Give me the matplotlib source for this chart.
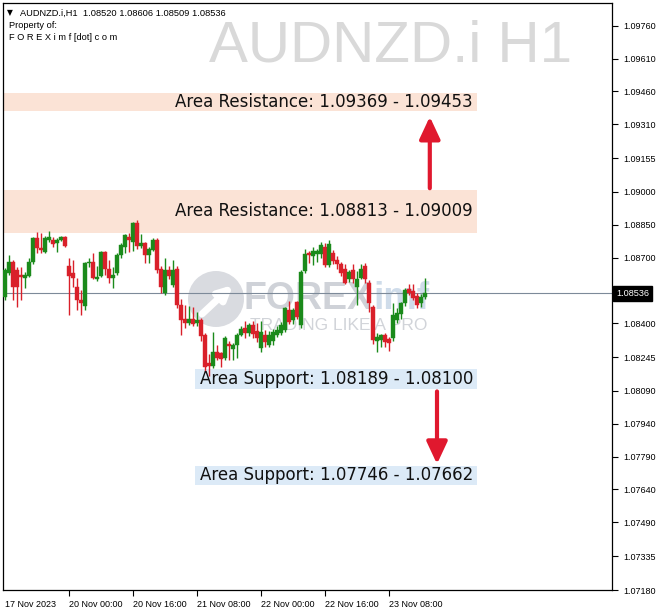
import matplotlib
matplotlib.use("Agg")
import matplotlib.pyplot as plt
from matplotlib.patches import Rectangle, Ellipse
from matplotlib.transforms import blended_transform_factory

# ---------------- data ----------------
opens = [1.08519, 1.08628, 1.08680, 1.08643, 1.08620, 1.08608, 1.08615, 1.08680, 1.08790, 1.08743,
         1.08725, 1.08780, 1.08780, 1.08768, 1.08782, 1.08795, 1.08660, 1.08630, 1.08566, 1.08505,
         1.08480, 1.08675, 1.08680, 1.08603, 1.08615, 1.08725, 1.08650, 1.08605, 1.08630, 1.08710,
         1.08750, 1.08795, 1.08770, 1.08857, 1.08755, 1.08765, 1.08710, 1.08735, 1.08780, 1.08650,
         1.08537, 1.08643, 1.08575, 1.08650, 1.08482, 1.08420, 1.08400, 1.08420, 1.08400, 1.08414,
         1.08345, 1.08220, 1.08205, 1.08270, 1.08265, 1.08240, 1.08305, 1.08280, 1.08300, 1.08345,
         1.08380, 1.08355, 1.08390, 1.08365, 1.08285, 1.08345, 1.08300, 1.08320, 1.08345, 1.08355,
         1.08370, 1.08460, 1.08415, 1.08495, 1.08390, 1.08640, 1.08722, 1.08705, 1.08715, 1.08715,
         1.08750, 1.08668, 1.08720, 1.08690, 1.08670, 1.08650, 1.08600, 1.08645, 1.08565, 1.08605,
         1.08660, 1.08585, 1.08475, 1.08320, 1.08325, 1.08345, 1.08327, 1.08330, 1.08415, 1.08440,
         1.08490, 1.08555, 1.08545, 1.08525, 1.08490, 1.08520]
highs = [1.08652, 1.08711, 1.08690, 1.08655, 1.08657, 1.08632, 1.08700, 1.08795, 1.08817, 1.08812,
         1.08800, 1.08820, 1.08795, 1.08790, 1.08800, 1.08800, 1.08700, 1.08688, 1.08605, 1.08551,
         1.08680, 1.08700, 1.08720, 1.08660, 1.08730, 1.08730, 1.08690, 1.08655, 1.08720, 1.08765,
         1.08810, 1.08812, 1.08862, 1.08870, 1.08810, 1.08770, 1.08750, 1.08790, 1.08790, 1.08660,
         1.08700, 1.08660, 1.08690, 1.08660, 1.08510, 1.08485, 1.08480, 1.08475, 1.08450, 1.08425,
         1.08355, 1.08260, 1.08360, 1.08300, 1.08270, 1.08340, 1.08320, 1.08310, 1.08355, 1.08385,
         1.08410, 1.08400, 1.08410, 1.08400, 1.08410, 1.08370, 1.08365, 1.08375, 1.08385, 1.08405,
         1.08475, 1.08500, 1.08470, 1.08500, 1.08645, 1.08740, 1.08730, 1.08750, 1.08740, 1.08770,
         1.08765, 1.08780, 1.08735, 1.08705, 1.08680, 1.08670, 1.08645, 1.08670, 1.08640, 1.08670,
         1.08675, 1.08598, 1.08485, 1.08355, 1.08352, 1.08355, 1.08335, 1.08490, 1.08470, 1.08495,
         1.08560, 1.08580, 1.08580, 1.08540, 1.08535, 1.08606]
lows = [1.08505, 1.08620, 1.08505, 1.08475, 1.08505, 1.08560, 1.08610, 1.08670, 1.08720, 1.08720,
        1.08720, 1.08770, 1.08750, 1.08725, 1.08775, 1.08750, 1.08437, 1.08566, 1.08460, 1.08437,
        1.08460, 1.08655, 1.08600, 1.08595, 1.08610, 1.08620, 1.08585, 1.08560, 1.08620, 1.08700,
        1.08720, 1.08725, 1.08730, 1.08740, 1.08745, 1.08675, 1.08675, 1.08730, 1.08630, 1.08540,
        1.08530, 1.08600, 1.08565, 1.08470, 1.08345, 1.08380, 1.08390, 1.08385, 1.08385, 1.08320,
        1.08178, 1.08160, 1.08195, 1.08230, 1.08200, 1.08230, 1.08230, 1.08230, 1.08240, 1.08340,
        1.08330, 1.08340, 1.08330, 1.08315, 1.08270, 1.08290, 1.08290, 1.08300, 1.08335, 1.08345,
        1.08360, 1.08395, 1.08395, 1.08420, 1.08380, 1.08630, 1.08675, 1.08665, 1.08680, 1.08700,
        1.08655, 1.08655, 1.08670, 1.08650, 1.08615, 1.08580, 1.08590, 1.08585, 1.08482, 1.08600,
        1.08585, 1.08450, 1.08305, 1.08270, 1.08290, 1.08290, 1.08272, 1.08320, 1.08400, 1.08420,
        1.08480, 1.08530, 1.08505, 1.08470, 1.08475, 1.08509]
closes = [1.08643, 1.08680, 1.08566, 1.08566, 1.08611, 1.08622, 1.08680, 1.08790, 1.08743, 1.08734,
          1.08790, 1.08792, 1.08760, 1.08782, 1.08795, 1.08755, 1.08615, 1.08608, 1.08505, 1.08490,
          1.08675, 1.08680, 1.08605, 1.08612, 1.08725, 1.08650, 1.08608, 1.08620, 1.08710, 1.08758,
          1.08803, 1.08780, 1.08857, 1.08752, 1.08765, 1.08710, 1.08740, 1.08780, 1.08643, 1.08566,
          1.08643, 1.08615, 1.08643, 1.08482, 1.08414, 1.08400, 1.08420, 1.08395, 1.08415, 1.08340,
          1.08200, 1.08205, 1.08270, 1.08240, 1.08235, 1.08330, 1.08295, 1.08300, 1.08345, 1.08375,
          1.08355, 1.08390, 1.08350, 1.08330, 1.08358, 1.08315, 1.08345, 1.08360, 1.08370, 1.08390,
          1.08470, 1.08405, 1.08460, 1.08430, 1.08635, 1.08715, 1.08710, 1.08730, 1.08728, 1.08757,
          1.08668, 1.08760, 1.08683, 1.08670, 1.08630, 1.08585, 1.08632, 1.08600, 1.08600, 1.08650,
          1.08600, 1.08490, 1.08322, 1.08335, 1.08345, 1.08315, 1.08310, 1.08437, 1.08445, 1.08490,
          1.08550, 1.08540, 1.08515, 1.08482, 1.08520, 1.08536]

date_tick_index = [0, 16, 32, 48, 64, 80, 96]
date_tick_labels = ["17 Nov 2023", "20 Nov 00:00", "20 Nov 16:00", "21 Nov 08:00",
                    "22 Nov 00:00", "22 Nov 16:00", "23 Nov 08:00"]

price_ticks = [1.09760, 1.09610, 1.09460, 1.09310, 1.09155, 1.09000, 1.08850, 1.08700, 1.08550,
               1.08400, 1.08245, 1.08090, 1.07940, 1.07790, 1.07640, 1.07490, 1.07335, 1.07180]
# the 1.08550 label sits under the current-price box in the reference
price_tick_labels = ["1.09760", "1.09610", "1.09460", "1.09310", "1.09155", "1.09000", "1.08850",
                     "1.08700", "", "1.08400", "1.08245", "1.08090", "1.07940", "1.07790",
                     "1.07640", "1.07490", "1.07335", "1.07180"]

resistance_zones = [(1.09369, 1.09453), (1.08813, 1.09009)]
support_zones = [(1.08189, 1.08100), (1.07746, 1.07662)]
current_price = closes[-1]
symbol = "AUDNZD.i"
timeframe = "H1"

# ---------------- style ----------------
W, H = 662, 615
BULL = "#1B8A1B"
BEAR = "#D9202A"
RES_COLOR = "#FBE3D6"
SUP_COLOR = "#DCEAF7"
ARROW = "#E0182E"
FONT = ["Liberation Sans", "DejaVu Sans"]

fig = plt.figure(figsize=(W / 100, H / 100), dpi=100)
L, R, T, B = 3, 612, 3, 590
ax = fig.add_axes([L / W, 1 - B / H, (R - L) / W, (B - T) / H])
ax.set_xlim(-0.5, 151.75)
ax.set_ylim(1.07180, 1.09864)

def px(x, y):
    return ((x - L) / (R - L), (B - y) / (B - T))

# watermark
ax.add_patch(Ellipse(px(216, 299), 56 / (R - L), 56 / (B - T), transform=ax.transAxes,
                     color="#B4B8C2", alpha=0.5, zorder=0.5, lw=0))
ax.annotate("", xy=px(233, 285), xytext=px(202, 314), xycoords="axes fraction",
            arrowprops=dict(arrowstyle="-|>", color="white", lw=5, mutation_scale=20,
                            shrinkA=0, shrinkB=0), zorder=0.6)
t_forex = ax.text(*px(243, 299), "FOREX", transform=ax.transAxes, ha="left", va="center",
                  fontsize=27, fontweight="bold", family=FONT, color="#A9AEB8", alpha=0.55,
                  zorder=0.5)
fig.canvas.draw()
bb = t_forex.get_window_extent(renderer=fig.canvas.get_renderer())
x_after = ax.transAxes.inverted().transform((bb.x1 + 1, bb.y0))[0]
ax.text(x_after, px(0, 299)[1], "imf", transform=ax.transAxes, ha="left", va="center",
        fontsize=27, fontweight="bold", family=FONT, color="#A9C0DA", alpha=0.55, zorder=0.5)
ax.text(*px(250, 325), "TRADING LIKE A PRO", transform=ax.transAxes, ha="left", va="center",
        fontsize=12.5, family=FONT, color="#B9BDC5", alpha=0.65, zorder=0.5)

# zones
zone_right = 118
for lo, hi in resistance_zones:
    ax.add_patch(Rectangle((-0.5, lo), zone_right + 0.5, hi - lo, color=RES_COLOR, lw=0, zorder=1))
    ax.text(zone_right - 1, (lo + hi) / 2, f"Area Resistance: {lo:.5f} - {hi:.5f}",
            ha="right", va="center", fontsize=12, family="DejaVu Sans", color="#111111", zorder=5)
for a, b in support_zones:
    lo, hi = min(a, b), max(a, b)
    ax.add_patch(Rectangle((47.5, lo), zone_right - 47.5, hi - lo, color=SUP_COLOR, lw=0, zorder=1))
    ax.text(zone_right - 1, (lo + hi) / 2, f"Area Support: {a:.5f} - {b:.5f}",
            ha="right", va="center", fontsize=12, family="DejaVu Sans", color="#111111", zorder=5)

# current price line
ax.axhline(current_price, color="#7D8A99", lw=0.8, zorder=2)

# candles
idx = list(range(len(opens)))
for i, o, h, l, c in zip(idx, opens, highs, lows, closes):
    col = BULL if c >= o else BEAR
    ax.vlines(i, l, h, color=col, lw=1.0, zorder=3)
    bot = min(o, c)
    hgt = max(abs(c - o), 0.00002)
    ax.bar(i, hgt, bottom=bot, width=0.78, color=col, edgecolor=col, lw=0.3, zorder=3.1)

# arrows
ax.annotate("", xy=(106.2, resistance_zones[0][0] - 0.00025),
            xytext=(106.2, resistance_zones[1][1] + 0.00008),
            arrowprops=dict(arrowstyle="-|>,head_length=0.9,head_width=0.42", color=ARROW,
                            lw=3, mutation_scale=15, shrinkA=0, shrinkB=0), zorder=6)
ax.annotate("", xy=(108, support_zones[1][0] + 0.00010),
            xytext=(108, support_zones[0][1] - 0.00012),
            arrowprops=dict(arrowstyle="-|>,head_length=0.9,head_width=0.42", color=ARROW,
                            lw=3, mutation_scale=15, shrinkA=0, shrinkB=0), zorder=6)

# axes styling
for s in ax.spines.values():
    s.set_color("black")
    s.set_linewidth(0.9)
ax.yaxis.tick_right()
ax.set_yticks(price_ticks)
ax.set_yticklabels(price_tick_labels, family=FONT, fontsize=6.5)
ax.tick_params(axis="y", direction="out", length=4, width=0.8, pad=4, colors="black")
ax.set_xticks(date_tick_index)
ax.set_xticklabels(date_tick_labels, family=FONT, fontsize=6.5, ha="left")
ax.tick_params(axis="x", direction="out", length=4, width=0.8, pad=3)
ax.xaxis.get_major_ticks()[0].tick1line.set_visible(False)

# current price box
trans = blended_transform_factory(ax.transAxes, ax.transData)
ax.text(1.0 + 4 / (R - L), current_price, f"{current_price:.5f}", transform=trans,
        ha="left", va="center", fontsize=6.6, family=FONT, color="white", clip_on=False,
        zorder=10, bbox=dict(boxstyle="square,pad=0.35", fc="black", ec="black"))

# title & header
fig.text(572 / W, 1 - 62 / H, f"{symbol} {timeframe}", ha="right", va="baseline",
         fontsize=42, family=FONT, color="#D9D9D9")
fig.text(7 / W, 1 - 13 / H, "\u25BC", ha="left", va="center", fontsize=5.5,
         family=["DejaVu Sans"], color="black")
fig.text(20 / W, 1 - 13 / H,
         f"{symbol},{timeframe}  {opens[-1]:.5f} {highs[-1]:.5f} {lows[-1]:.5f} {closes[-1]:.5f}",
         ha="left", va="center", fontsize=6.7, family=FONT, color="black")
fig.text(9 / W, 1 - 25 / H, "Property of:", ha="left", va="center", fontsize=6.7,
         family=FONT, color="black")
fig.text(9 / W, 1 - 38 / H, "F O R E X i m f [dot] c o m", ha="left", va="center",
         fontsize=6.7, family=FONT, color="black")

fig.savefig("out.png", dpi=100, facecolor="white")
